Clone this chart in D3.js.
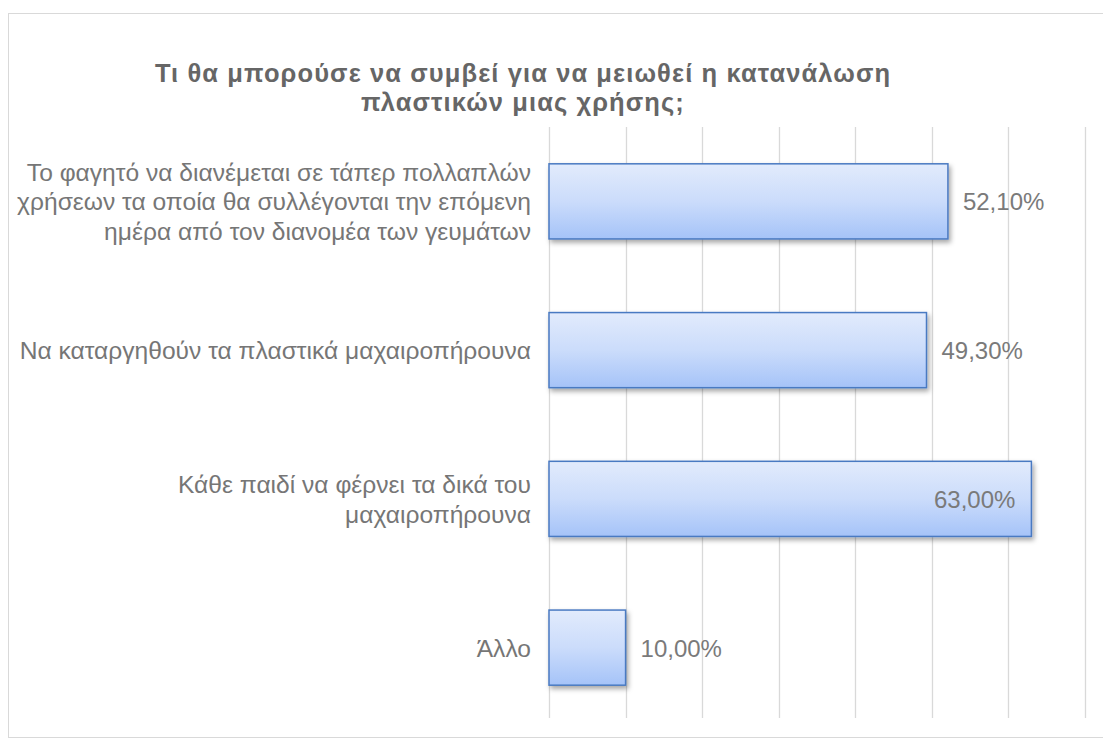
<!DOCTYPE html>
<html><head><meta charset="utf-8">
<script src="https://cdn.jsdelivr.net/npm/d3@7"></script>
<style>body{margin:0;background:#fff}svg{display:block}</style>
</head><body>
<script>
const categories = [
  ["Το φαγητό να διανέμεται σε τάπερ πολλαπλών", "χρήσεων τα οποία θα συλλέγονται την επόμενη", "ημέρα από τον διανομέα των γευμάτων"],
  ["Να καταργηθούν τα πλαστικά μαχαιροπήρουνα"],
  ["Κάθε παιδί να φέρνει τα δικά του", "μαχαιροπήρουνα"],
  ["Άλλο"]
];
const values = [52.1, 49.3, 63.0, 10.0];
const valueLabels = ["52,10%", "49,30%", "63,00%", "10,00%"];
const insideEnd = [false, false, true, false];
const ticks = [0, 10, 20, 30, 40, 50, 60, 70];
const titleLines = ["Τι θα μπορούσε να συμβεί για να μειωθεί η κατανάλωση", "πλαστικών μιας χρήσης;"];

const W = 1103, H = 745;
const FONT = "Liberation Sans, Arial, sans-serif";
const svg = d3.select("body").append("svg").attr("width", W).attr("height", H);
const defs = svg.append("defs");
const g = defs.append("linearGradient").attr("id","bg").attr("x1",0).attr("y1",0).attr("x2",0).attr("y2",1);
g.append("stop").attr("offset","0%").attr("stop-color","#e2ebfc");
g.append("stop").attr("offset","50%").attr("stop-color","#cbdcfb");
g.append("stop").attr("offset","100%").attr("stop-color","#a5c3f8");
const f = defs.append("filter").attr("id","sh").attr("x","-10%").attr("y","-20%").attr("width","130%").attr("height","150%");
f.append("feDropShadow").attr("dx",2).attr("dy",3).attr("stdDeviation",2.5).attr("flood-color","#000").attr("flood-opacity",0.35);

// chart border
svg.append("rect").attr("x",8.5).attr("y",13.5).attr("width",W+10).attr("height",724).attr("fill","none").attr("stroke","#d9d9d9").attr("stroke-width",1);

const x = d3.scaleLinear().domain([0,70]).range([549,1085]);
const y = d3.scaleBand().domain(d3.range(categories.length)).range([127,722]).paddingInner(0.495).paddingOuter(0.2475);

// gridlines
svg.append("g").selectAll("line").data(ticks).join("line")
  .attr("x1",d=>Math.round(x(d))+0.5).attr("x2",d=>Math.round(x(d))+0.5)
  .attr("y1",127).attr("y2",718).attr("stroke","#d9d9d9").attr("stroke-width",1.3);

// title
svg.append("text").attr("text-anchor","middle").attr("font-family",FONT)
  .attr("font-weight","bold").attr("font-size",25.5).attr("letter-spacing",1.1).attr("fill","#666666")
  .selectAll("tspan").data(titleLines).join("tspan")
  .attr("x",523).attr("y",(d,i)=>82+i*29).text(d=>d);

// bars
svg.append("g").selectAll("rect").data(values).join("rect")
  .attr("x",x(0)).attr("y",(d,i)=>y(i)).attr("width",d=>x(d)-x(0)).attr("height",y.bandwidth())
  .attr("fill","url(#bg)").attr("stroke","#4a7ac2").attr("stroke-width",1.5).attr("filter","url(#sh)");

// category labels
const cl = svg.append("g").attr("font-family",FONT).attr("font-size",24.6).attr("fill","#767676").attr("text-anchor","end");
categories.forEach((lines,i)=>{
  const cy = y(i)+y.bandwidth()/2;
  const lh = 29.5;
  const t = cl.append("text");
  lines.forEach((s,j)=>{
    t.append("tspan").attr("x",531).attr("y",cy + (j-(lines.length-1)/2)*lh + 9).text(s);
  });
});

// value labels
svg.append("g").attr("font-family",FONT).attr("font-size",24).attr("fill","#7a7a7a")
  .selectAll("text").data(values).join("text")
  .attr("x",(d,i)=>insideEnd[i] ? x(d)-16 : x(d)+15)
  .attr("y",(d,i)=>y(i)+y.bandwidth()/2+9)
  .attr("text-anchor",(d,i)=>insideEnd[i]?"end":"start")
  .text((d,i)=>valueLabels[i]);
</script>
</body></html>
